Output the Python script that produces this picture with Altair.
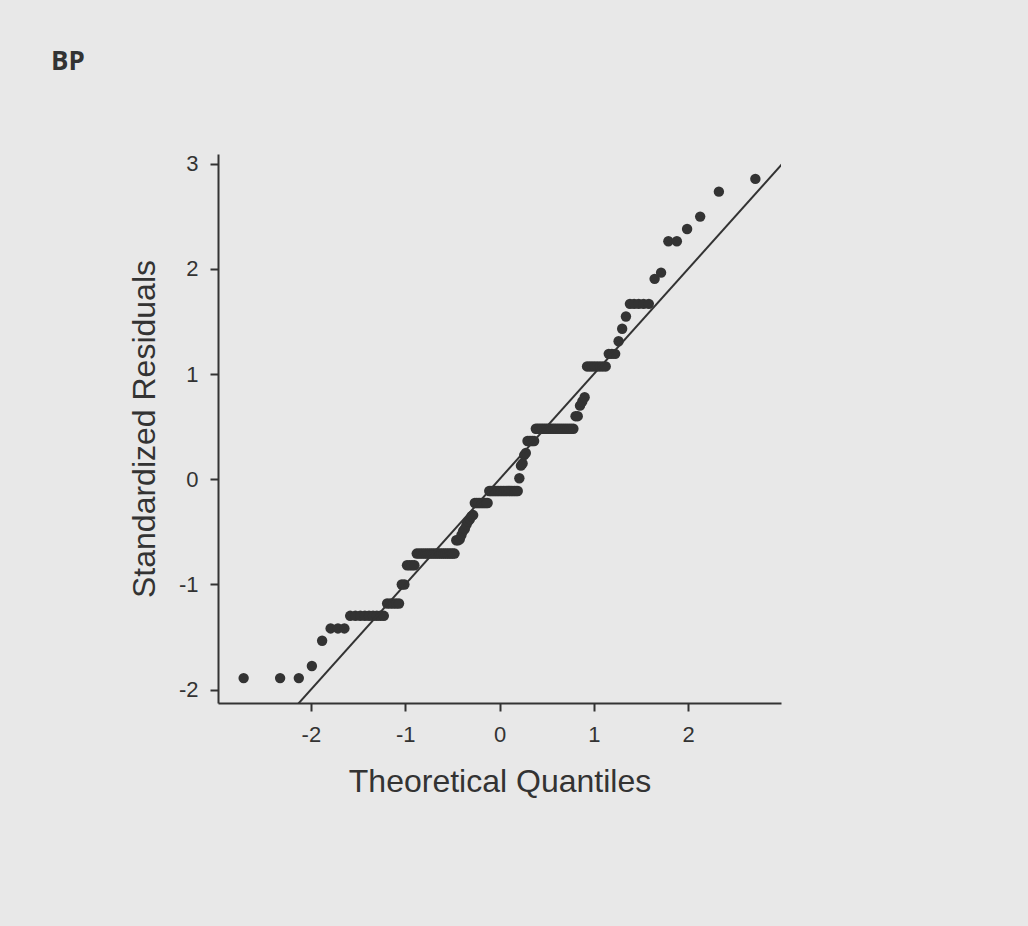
import altair as alt
import pandas as pd

# Standardized residual levels (sorted) and how many observations share each level
residual_levels = [
    -1.89, -1.775, -1.535, -1.418, -1.298, -1.181, -1.0, -0.817, -0.706,
    -0.58, -0.57, -0.53, -0.49, -0.47, -0.43, -0.40, -0.38, -0.35, -0.34,
    -0.225, -0.111, 0.01, 0.13, 0.15, 0.23, 0.25, 0.364, 0.481, 0.60,
    0.70, 0.74, 0.78, 1.073, 1.193, 1.313, 1.431, 1.548, 1.668, 1.906,
    1.965, 2.263, 2.38, 2.498, 2.735, 2.856,
]
level_counts = [
    3, 1, 1, 3, 9, 5, 2, 4, 20,
    2, 1, 1, 1, 1, 1, 1, 1, 1, 1,
    9, 19, 1, 1, 1, 1, 1, 5, 21, 2,
    1, 1, 1, 8, 3, 1, 1, 1, 5, 1,
    1, 2, 1, 1, 1, 1,
]

# Reference line y = x
ref_theoretical = [-3.0, 3.0]
ref_residual = [-3.0, 3.0]

x_ticks = [-2, -1, 0, 1, 2]
y_ticks = [-2, -1, 0, 1, 2, 3]

residuals = []
for v, c in zip(residual_levels, level_counts):
    residuals.extend([v] * c)
df = pd.DataFrame({"residual": residuals})
line_df = pd.DataFrame({"theoretical": ref_theoretical, "residual": ref_residual})

INK = "#333333"
LABEL_FONT = "Liberation Sans"

x_scale = alt.Scale(domain=[-2.985, 2.985], nice=False, zero=False)
y_scale = alt.Scale(domain=[-2.127, 3.093], nice=False, zero=False)

x_axis = alt.Axis(
    values=x_ticks, title="Theoretical Quantiles", grid=False,
    labelExpr="datum.value + ''",
    domainColor=INK, domainWidth=2, tickColor=INK, tickWidth=2, tickSize=8,
    labelFont=LABEL_FONT, labelFontSize=22, labelColor=INK, labelPadding=13,
    titleFont=LABEL_FONT, titleFontSize=32, titleFontWeight="normal", titleColor=INK,
    titleBaseline="alphabetic", titleY=88,
)
y_axis = alt.Axis(
    values=y_ticks, title="Standardized Residuals", grid=False,
    labelExpr="datum.value + ''",
    domainColor=INK, domainWidth=2, tickColor=INK, tickWidth=2, tickSize=8,
    labelFont=LABEL_FONT, labelFontSize=22, labelColor=INK, labelPadding=12,
    titleFont=LABEL_FONT, titleFontSize=32, titleFontWeight="normal", titleColor=INK,
    titleBaseline="alphabetic", titleAngle=270, titleX=-64,
)

points = alt.Chart(df).transform_window(
    rank="row_number()", sort=[alt.SortField("residual", order="ascending")]
).transform_joinaggregate(
    n="count()"
).transform_calculate(
    theoretical="quantileNormal((datum.rank - 0.5) / datum.n)"
).mark_circle(size=108, color=INK, opacity=1).encode(
    x=alt.X("theoretical:Q", scale=x_scale, axis=x_axis),
    y=alt.Y("residual:Q", scale=y_scale, axis=y_axis),
)

line = alt.Chart(line_df).mark_line(color=INK, strokeWidth=2, clip=True).encode(
    x=alt.X("theoretical:Q", scale=x_scale, axis=x_axis),
    y=alt.Y("residual:Q", scale=y_scale, axis=y_axis),
)

chart = alt.layer(points, line).properties(
    width=563,
    height=549,
    title=alt.TitleParams(
        "BP", anchor="start", frame="group", font="Open Sans", fontSize=26,
        fontWeight="bold", color=INK, baseline="alphabetic", dx=-167, dy=-57, offset=0,
    ),
    autosize=alt.AutoSizeParams(type="none"),
    padding={"left": 218, "top": 154, "right": 247, "bottom": 223},
).configure(
    background="#e8e8e8",
).configure_view(
    stroke=None,
)

chart.save("out.html", embed_options={"renderer": "svg", "actions": False})
